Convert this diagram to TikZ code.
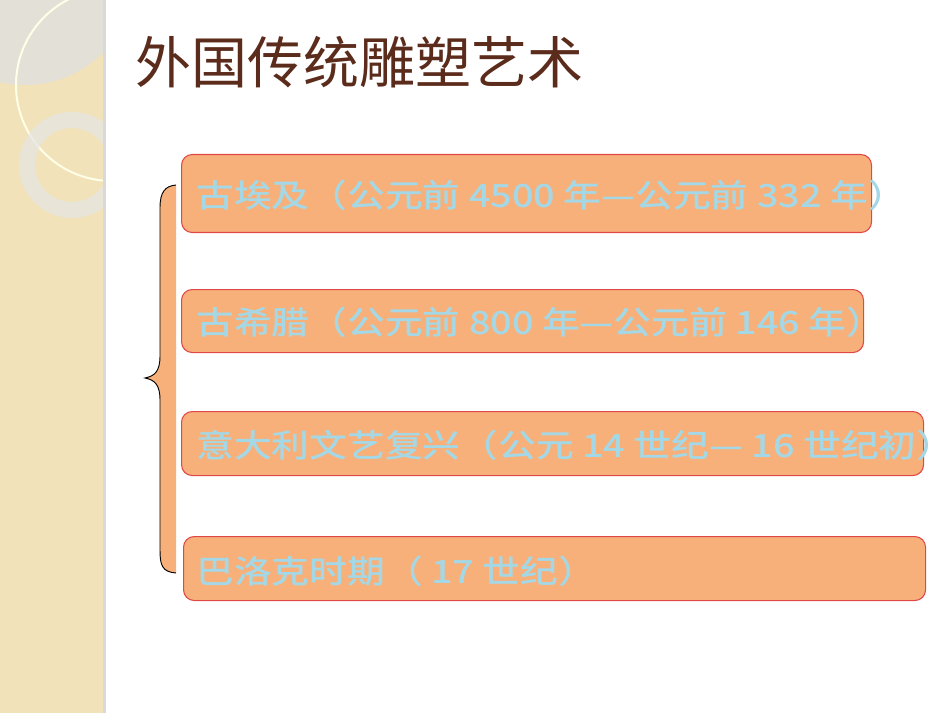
\documentclass[tikz,border=0pt]{standalone}
\usepackage{fontspec}
\newfontfamily\cjk{Noto Sans CJK SC}
\newfontfamily\cjkb{Noto Sans CJK SC Medium}
\begin{document}
\begin{tikzpicture}[x=0.75pt,y=-0.75pt,
  item/.style={draw=boxline,fill=box,rounded corners=8pt,line width=0.8pt},
  itxt/.style={anchor=west,inner sep=0pt,text=txt,font=\cjkb\fontsize{24}{26}\selectfont}]
\definecolor{strip}{HTML}{F1E2BA}
\definecolor{box}{HTML}{F8B07A}
\definecolor{boxline}{HTML}{E04848}
\definecolor{txt}{HTML}{A4D8E6}
\definecolor{ttl}{HTML}{5B2B1B}
\useasboundingbox (0,0) rectangle (950,713);
\fill[white] (0,0) rectangle (950,713);
\fill[strip] (0,0) rectangle (105,713);
\begin{scope}
\clip (0,0) rectangle (105,713);
\fill[black!12,opacity=0.8] (25,-25) circle (110);
\draw[white!90!yellow,line width=1.5pt] (112,85) circle (96);
\draw[black!10!white,opacity=0.7,line width=12pt] (72,165) circle (45);
\end{scope}
\fill[black!15] (103,0) rectangle (106,713);
\node[anchor=west,inner sep=0pt,text=ttl,font=\cjk\fontsize{42}{46}\selectfont] (title) at (135,62) {外国传统雕塑艺术};
% brace
\fill[box] (176,185) -- (176,573) -- (175,573) .. controls (162,572) and (160,565) .. (160,550)
  -- (160,400) .. controls (160,385) and (155,380) .. (145,378)
  .. controls (155,376) and (160,371) .. (160,356) -- (160,208) .. controls (160,192) and (165,186) .. (176,185) -- cycle;
\draw[black,line width=0.7pt] (176,573) .. controls (162,572) and (160,565) .. (160,550)
  -- (160,400) .. controls (160,385) and (155,380) .. (145,378)
  .. controls (155,376) and (160,371) .. (160,356) -- (160,208) .. controls (160,192) and (165,186) .. (176,185);
\node[item,minimum width=690*0.75pt,minimum height=78*0.75pt,anchor=north west] (b1) at (181,154) {};
\node[item,minimum width=682*0.75pt,minimum height=63*0.75pt,anchor=north west] (b2) at (181,289) {};
\node[item,minimum width=742*0.75pt,minimum height=64*0.75pt,anchor=north west] (b3) at (181,411) {};
\node[item,minimum width=742*0.75pt,minimum height=64*0.75pt,anchor=north west] (b4) at (183,536) {};
\node[itxt] (t1) at (196,195) {\scalebox{1.18}[1]{古埃及（公元前 4500 年—公元前 332 年）}};
\node[itxt] (t2) at (196,322) {\scalebox{1.18}[1]{古希腊（公元前 800 年—公元前 146 年）}};
\node[itxt] (t3) at (196,445) {\scalebox{1.18}[1]{意大利文艺复兴（公元 14 世纪— 16 世纪初）}};
\node[itxt] (t4) at (196,571) {\scalebox{1.18}[1]{巴洛克时期（ 17 世纪）}};
\end{tikzpicture}
\end{document}
